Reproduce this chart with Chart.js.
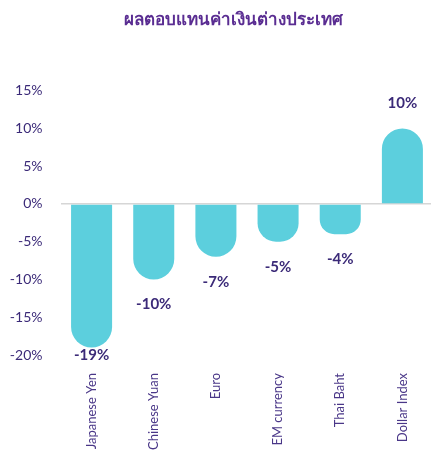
<!DOCTYPE html>
<html>
<head>
<meta charset="utf-8">
<script src="https://cdn.jsdelivr.net/npm/chart.js@4/dist/chart.umd.min.js"></script>
<style>
  html, body { margin: 0; padding: 0; background: #ffffff; overflow: hidden; }
  #wrap { position: absolute; left: 0; top: 0; width: 436px; height: 461px; }
</style>
</head>
<body>
<div id="wrap"><canvas id="c" width="436" height="461"></canvas></div>
<script>
// Currency returns (%)
const chartTitle = 'ผลตอบแทนค่าเงินต่างประเทศ';
const categories = ['Japanese Yen', 'Chinese Yuan', 'Euro', 'EM currency', 'Thai Baht', 'Dollar Index'];
const returns = [-19, -10, -7, -5, -4, 10];
const yTicks = [-20, -15, -10, -5, 0, 5, 10, 15];

const BAR_COLOR = '#5ccfdd';
const TEXT_PURPLE = '#3b2a78';
const FONT = 'Lato, "Open Sans", "DejaVu Sans", sans-serif';

// Title drawn above the plot
const titlePlugin = {
  id: 'topTitle',
  afterDraw(chart) {
    const ctx = chart.ctx;
    ctx.save();
    ctx.font = 'bold 17px ' + FONT;
    ctx.fillStyle = '#5a2d92';
    ctx.textAlign = 'center';
    ctx.textBaseline = 'middle';
    ctx.fillText(chartTitle, 233, 20);
    ctx.restore();
  }
};

// Value labels at the end of each bar
const valueLabels = {
  id: 'valueLabels',
  afterDatasetsDraw(chart) {
    const ctx = chart.ctx;
    const meta = chart.getDatasetMeta(0);
    const area = chart.chartArea;
    ctx.save();
    ctx.font = 'bold 15px ' + FONT;
    ctx.fillStyle = TEXT_PURPLE;
    ctx.textAlign = 'center';
    ctx.textBaseline = 'middle';
    meta.data.forEach((bar, i) => {
      const v = returns[i];
      const y = v < 0 ? Math.min(bar.y + 25, area.bottom) : bar.y - 25;
      ctx.fillText(v + '%', bar.x, y);
    });
    ctx.restore();
  }
};

new Chart(document.getElementById('c'), {
  type: 'bar',
  data: {
    labels: categories,
    datasets: [{
      data: returns,
      backgroundColor: BAR_COLOR,
      borderWidth: 0,
      borderRadius: 21,
      borderSkipped: 'start',
      barPercentage: 0.66,
      categoryPercentage: 1
    }]
  },
  options: {
    responsive: false,
    animation: false,
    layout: { padding: { top: 90.7, right: 0, bottom: 0, left: 0 } },
    plugins: {
      legend: { display: false },
      title: { display: false },
      tooltip: { enabled: false }
    },
    scales: {
      x: {
        grid: { display: false, drawTicks: false },
        border: { display: false },
        ticks: {
          minRotation: 90,
          maxRotation: 90,
          autoSkip: false,
          padding: 18,
          color: '#4a3788',
          font: { family: FONT, size: 13 }
        },
        afterFit(scale) { scale.height = 106; }
      },
      y: {
        min: -20,
        max: 15,
        afterBuildTicks(scale) { scale.ticks = yTicks.map(v => ({ value: v })); },
        grid: {
          drawTicks: false,
          lineWidth: 1.5,
          color: ctx => (ctx.tick && ctx.tick.value === 0) ? '#d6d6d6' : 'rgba(0,0,0,0)'
        },
        border: { display: false },
        ticks: {
          padding: 18,
          color: TEXT_PURPLE,
          font: { family: FONT, size: 14 },
          callback: v => v + '%'
        },
        afterFit(scale) { scale.width = 60.5; }
      }
    }
  },
  plugins: [titlePlugin, valueLabels]
});
</script>
</body>
</html>
